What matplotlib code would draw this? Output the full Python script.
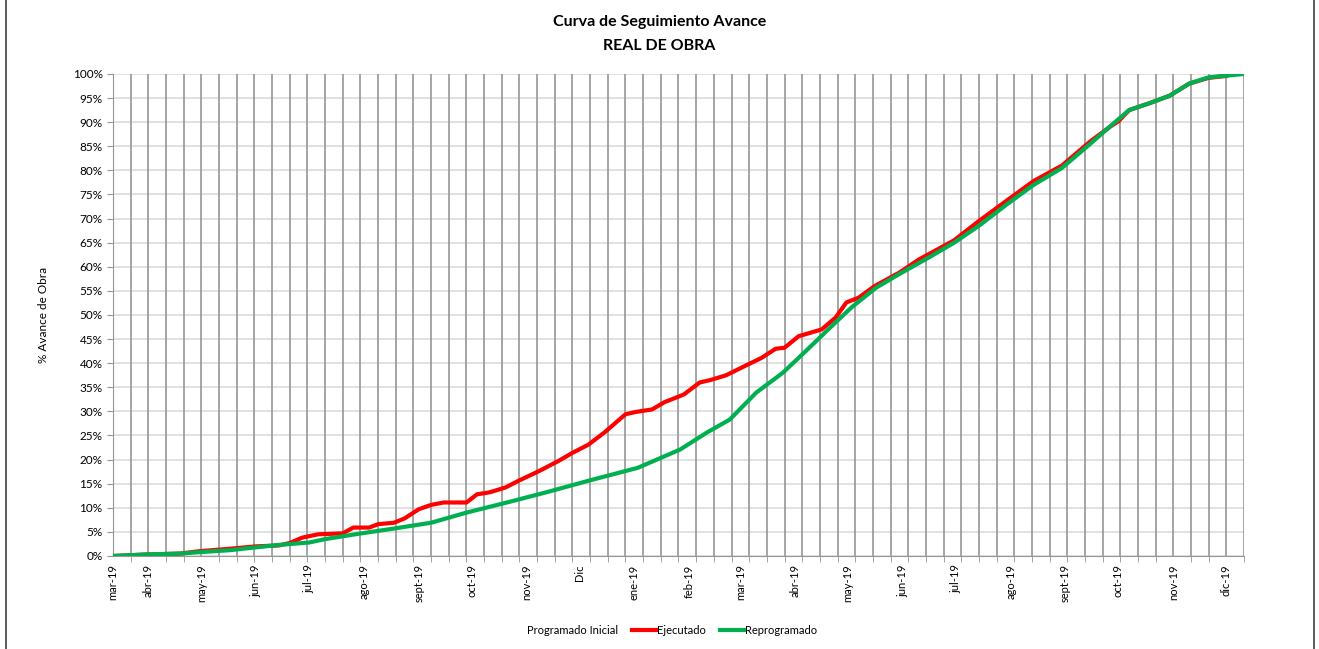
import pandas as pd
import matplotlib.pyplot as plt
from matplotlib.lines import Line2D
from matplotlib.patches import Rectangle

# days counted from the first date on the axis (12-mar-2019)
start = pd.Timestamp('2019-03-12')
end_day = 640

dias_ejecutado = [0, 18, 38, 49, 66, 81, 94, 100, 107, 116, 130, 136, 145, 150, 159, 165,
                  173, 180, 187, 200, 206, 213, 222, 230, 241, 252, 260, 269, 278, 290,
                  296, 305, 312, 323, 332, 338, 347, 358, 367, 375, 380, 388, 401, 409,
                  415, 422, 431, 445, 456, 476, 490, 506, 521, 537, 553, 564, 569, 575,
                  587, 598, 609, 620, 630]
avance_ejecutado = [0, 0.3, 0.5, 1.0, 1.5, 2.0, 2.2, 2.7, 3.8, 4.5, 4.7, 5.9, 5.9, 6.6, 6.9, 7.8,
                    9.7, 10.6, 11.1, 11.1, 12.8, 13.2, 14.2, 15.7, 17.6, 19.7, 21.4, 23.1, 25.6, 29.4,
                    29.9, 30.4, 31.9, 33.5, 36.0, 36.5, 37.5, 39.5, 41.1, 43.0, 43.2, 45.6, 47.0, 49.5,
                    52.6, 53.6, 56.0, 58.8, 61.5, 65.5, 69.5, 73.8, 77.8, 81.0, 86.0, 89.0, 90.2, 92.5,
                    94.0, 95.5, 98.0, 99.2, 99.6]

dias_reprogramado = [0, 18, 38, 49, 66, 81, 94, 111, 120, 137, 159, 180, 200, 224, 245, 271,
                     297, 321, 336, 349, 364, 379, 392, 407, 418, 432, 445, 462, 476, 490,
                     506, 521, 537, 553, 567, 575, 587, 598, 609, 620, 640]
avance_reprogramado = [0, 0.3, 0.5, 0.8, 1.2, 1.8, 2.3, 2.8, 3.5, 4.5, 5.7, 6.9, 9.0, 11.2, 13.2, 15.8,
                       18.3, 22.1, 25.6, 28.3, 33.9, 38.0, 42.5, 47.8, 51.6, 55.7, 58.5, 62.0, 65.0, 68.5,
                       73.0, 77.0, 80.5, 85.5, 90.0, 92.5, 94.0, 95.5, 98.0, 99.3, 100.0]

etiquetas_x = ['mar-19', 'abr-19', 'may-19', 'jun-19', 'jul-19', 'ago-19', 'sept-19', 'oct-19',
               'nov-19', 'Dic', 'ene-19', 'feb-19', 'mar-19', 'abr-19', 'may-19', 'jun-19',
               'jul-19', 'ago-19', 'sept-19', 'oct-19', 'nov-19', 'dic-19']
fechas_x = [start] + list(pd.date_range('2019-04-01', '2020-12-01', freq='MS'))
pos_x = [(f - start).days for f in fechas_x]

font = ['Lato', 'DejaVu Sans']
plt.rcParams['font.family'] = font

fig = plt.figure(figsize=(13.19, 6.49), dpi=100)
ax = fig.add_axes([0.0857, 0.1433, 0.8574, 0.7427])

ax.plot(dias_ejecutado, avance_ejecutado, color='#ff0000', linewidth=3, zorder=3)
ax.plot(dias_reprogramado, avance_reprogramado, color='#00b050', linewidth=3, zorder=4)

ax.set_xlim(0, end_day)
ax.set_ylim(0, 100)

# vertical grid every 10 days
for d in range(10, end_day + 1, 10):
    ax.axvline(d, color='#969696', linewidth=1.2, zorder=1)
ax.set_yticks(range(0, 101, 5))
ax.set_yticklabels([f'{v}%' for v in range(0, 101, 5)], fontsize=8.5)
ax.yaxis.grid(True, color='#d9d9d9', linewidth=1.1, zorder=0)
ax.set_axisbelow(True)

ax.set_xticks(pos_x)
ax.set_xticklabels(etiquetas_x, rotation=90, fontsize=8)
ax.set_xticks(range(0, end_day + 1, 10), minor=True)
ax.tick_params(axis='x', which='major', length=0, pad=6)
ax.tick_params(axis='x', which='minor', length=4, color='#969696')
ax.tick_params(axis='y', length=4, color='#969696')

for s in ['top', 'right']:
    ax.spines[s].set_visible(False)
for s in ['left', 'bottom']:
    ax.spines[s].set_color('#969696')

ax.set_ylabel('% Avance de Obra', fontsize=8.5, labelpad=17)

fig.text(0.5, 0.966, 'Curva de Seguimiento Avance', ha='center', va='center',
         fontsize=11.5, fontweight='bold')
fig.text(0.5, 0.929, 'REAL DE OBRA', ha='center', va='center',
         fontsize=11.5, fontweight='bold')

handles = [Line2D([], [], color='none', linewidth=3),
           Line2D([], [], color='#ff0000', linewidth=3),
           Line2D([], [], color='#00b050', linewidth=3)]
fig.legend(handles, ['Programado Inicial', 'Ejecutado', 'Reprogramado'],
           loc='center', bbox_to_anchor=(0.5, 0.028), ncol=3, frameon=False,
           fontsize=8, handlelength=2.2, handletextpad=0.1, columnspacing=1.2)

fig.add_artist(Rectangle((6 / 1319, -0.01), 1308 / 1319, 1.05, transform=fig.transFigure,
                         fill=False, edgecolor='#404040', linewidth=1.2))

plt.savefig('out.png', dpi=100)
